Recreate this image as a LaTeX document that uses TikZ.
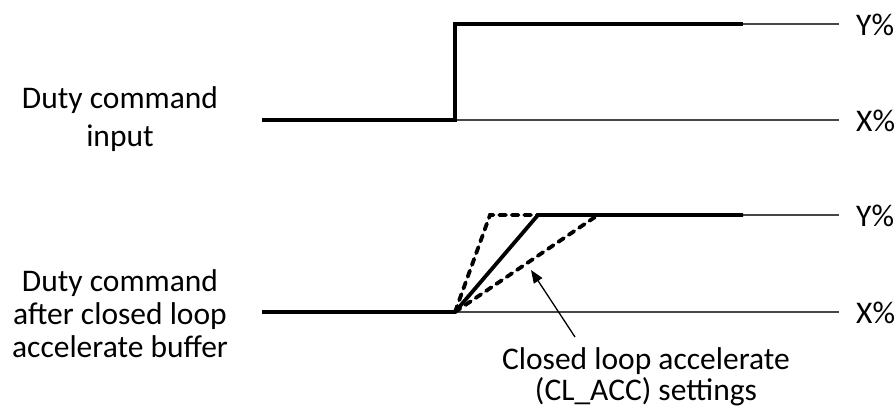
\documentclass[tikz,border=0pt]{standalone}
\usepackage{fontspec}
\setmainfont{Carlito}
\usetikzlibrary{arrows.meta}
\tikzset{
  sig/.style={line width=3.8pt, line join=miter, black},
  dsig/.style={line width=3.8pt, black, dash pattern=on 6.5pt off 6pt, line cap=round},
  ref/.style={line width=1.3pt, black!72},
  lbl/.style={inner sep=0pt, font=\fontsize{31.5}{33}\selectfont, text=black},
  callout/.style={line width=1.3pt, black, -{Triangle[length=13pt,width=10pt]}}
}
\begin{document}
\begin{tikzpicture}[x=1pt,y=-1pt]
\useasboundingbox (0,0) rectangle (896,407);
% top reference levels
\coordinate (tA) at (262,120);
\coordinate (tB) at (455,120);
\coordinate (tC) at (455,24);
\coordinate (tD) at (743,24);
\coordinate (tYe) at (839,24);
\coordinate (tXe) at (839,120);
\draw[ref] (tD) -- (tYe);
\draw[ref] (tB) -- (tXe);
\draw[sig] (tA) -- (tB) -- (tC) -- (tD);
\node[lbl, anchor=west] (tY) at (856,25) {Y\%};
\node[lbl, anchor=west] (tX) at (856,121) {X\%};
\node[lbl, align=center, font=\fontsize{31.5}{38}\selectfont] (tin) at (120,119) {Duty command\\input};
% bottom
\coordinate (bA) at (262,312);
\coordinate (bB) at (455,312);
\coordinate (bF) at (490,215);
\coordinate (bC) at (538,215);
\coordinate (bS) at (598,215);
\coordinate (bD) at (743,215);
\coordinate (bYe) at (839,215);
\coordinate (bXe) at (839,312);
\draw[ref] (bD) -- (bYe);
\draw[ref] (bB) -- (bXe);
\draw[dsig] (bB) -- (bF) -- (bC);
\draw[dsig] (bB) -- (bS);
\draw[sig] (bA) -- (bB) -- (bC) -- (bD);
\node[lbl, anchor=west] (bY) at (856,216) {Y\%};
\node[lbl, anchor=west] (bX) at (856,313) {X\%};
\node[lbl, align=center] (bin) at (120,314) {Duty command\\after closed loop\\accelerate buffer};
% callout
\node[lbl, align=center, font=\fontsize{31.5}{31}\selectfont] (cl) at (646,377) {Closed loop accelerate\\(CL\_ACC) settings};
\coordinate (ctip) at (531,270);
\draw[callout] (575,337) -- (ctip);
\end{tikzpicture}
\end{document}
